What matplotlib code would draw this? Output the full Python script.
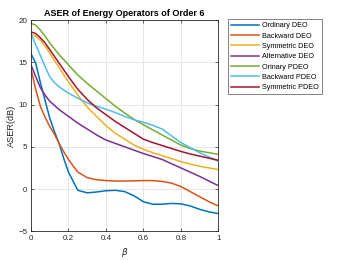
import matplotlib
matplotlib.use("Agg")
import matplotlib.pyplot as plt

beta = [0, .025, .05, .075, .1, .125, .15, .175, .2, .25, .3, .35, .4, .45, .5,
        .55, .6, .65, .7, .75, .8, .85, .9, .95, 1.0]

ordinary_deo = [16.0, 14.9, 12.6, 10.5, 8.4, 6.8, 5.4, 3.6, 2.0, -0.15, -0.45, -0.35, -0.2,
                -0.15, -0.3, -0.8, -1.5, -1.8, -1.8, -1.7, -1.75, -2.0, -2.4, -2.7, -2.9]
backward_deo = [14.2, 11.8, 9.8, 8.5, 7.4, 6.5, 5.4, 4.4, 3.5, 2.0, 1.35, 1.1, 1.0,
                0.95, 0.95, 0.97, 1.0, 1.0, 0.9, 0.7, 0.3, -0.3, -0.9, -1.5, -2.0]
symmetric_deo = [18.3, 18.1, 17.6, 16.9, 16.1, 15.2, 14.4, 13.5, 12.7, 11.1, 9.7, 8.6, 7.5,
                 6.6, 5.9, 5.2, 4.7, 4.3, 3.95, 3.6, 3.25, 2.95, 2.7, 2.5, 2.3]
alternative_deo = [14.7, 13.3, 12.0, 11.1, 10.4, 9.9, 9.4, 9.0, 8.6, 7.8, 7.1, 6.4, 5.8,
                   5.4, 5.0, 4.6, 4.2, 3.85, 3.5, 3.0, 2.5, 2.0, 1.5, 0.95, 0.4]
orinary_pdeo = [19.6, 19.4, 18.8, 18.1, 17.3, 16.6, 15.9, 15.3, 14.7, 13.5, 12.5, 11.6, 10.7,
                9.8, 9.0, 8.25, 7.6, 7.0, 6.4, 5.8, 5.2, 4.8, 4.5, 4.3, 4.1]
backward_pdeo = [18.4, 17.1, 15.8, 14.5, 13.3, 12.6, 12.1, 11.7, 11.35, 10.75, 10.2, 9.8, 9.45,
                 9.05, 8.6, 8.2, 7.9, 7.55, 7.1, 6.3, 5.5, 4.9, 4.3, 3.8, 3.3]
symmetric_pdeo = [18.6, 18.4, 17.9, 17.3, 16.5, 15.7, 14.9, 14.1, 13.3, 11.8, 10.6, 9.6, 8.8,
                  8.0, 7.3, 6.6, 5.9, 5.5, 5.15, 4.8, 4.45, 4.15, 3.9, 3.65, 3.4]

series = [
    ("Ordinary DEO", ordinary_deo, "#0072BD"),
    ("Backward DEO", backward_deo, "#D95319"),
    ("Symmetric DEO", symmetric_deo, "#EDB120"),
    ("Alternative DEO", alternative_deo, "#7E2F8E"),
    ("Orinary PDEO", orinary_pdeo, "#77AC30"),
    ("Backward PDEO", backward_pdeo, "#4DBEEE"),
    ("Symmetric PDEO", symmetric_pdeo, "#A2142F"),
]

xticks = [0, 0.2, 0.4, 0.6, 0.8, 1]
xticklabels = ["0", "0.2", "0.4", "0.6", "0.8", "1"]
yticks = [-5, 0, 5, 10, 15, 20]

plt.rcParams['font.family'] = ['Liberation Sans', 'DejaVu Sans']
plt.rcParams['mathtext.fontset'] = 'dejavusans'

fig = plt.figure(figsize=(3.46, 2.60), dpi=100)
ax = fig.add_axes([31/346, 1-231.3/260, (218.3-31)/346, (231.3-20)/260])

for name, vals, col in series:
    ax.plot(beta, vals, color=col, lw=1.1, label=name)

ax.set_xlim(0, 1)
ax.set_ylim(-5, 20)
ax.set_xticks(xticks)
ax.set_xticklabels(xticklabels)
ax.set_yticks(yticks)
ax.grid(True, color='#e3e3e3', lw=0.6)
ax.set_axisbelow(True)
ax.tick_params(direction='in', length=2.5, width=0.5, labelsize=5.8, colors='#262626',
               top=True, right=True, pad=2.5)
for s in ax.spines.values():
    s.set_linewidth(0.6)
    s.set_color('#262626')

ax.set_title("ASER of Energy Operators of Order 6", fontsize=6.5, fontweight='bold', pad=3)
ax.set_xlabel(r"$\beta$", fontsize=6.4, labelpad=3, color='#262626')
ax.set_ylabel("ASER(dB)", fontsize=6.6, labelpad=2, color='#262626')

leg = fig.legend(loc='upper left', bbox_to_anchor=(228/346, 1-19/260), fontsize=5.2,
                 frameon=True, fancybox=False, edgecolor='#262626', handlelength=3.9,
                 handletextpad=0.3, borderpad=0.45, labelspacing=0.45, borderaxespad=0)
leg.get_frame().set_linewidth(0.5)

fig.savefig("out.png", dpi=100)
